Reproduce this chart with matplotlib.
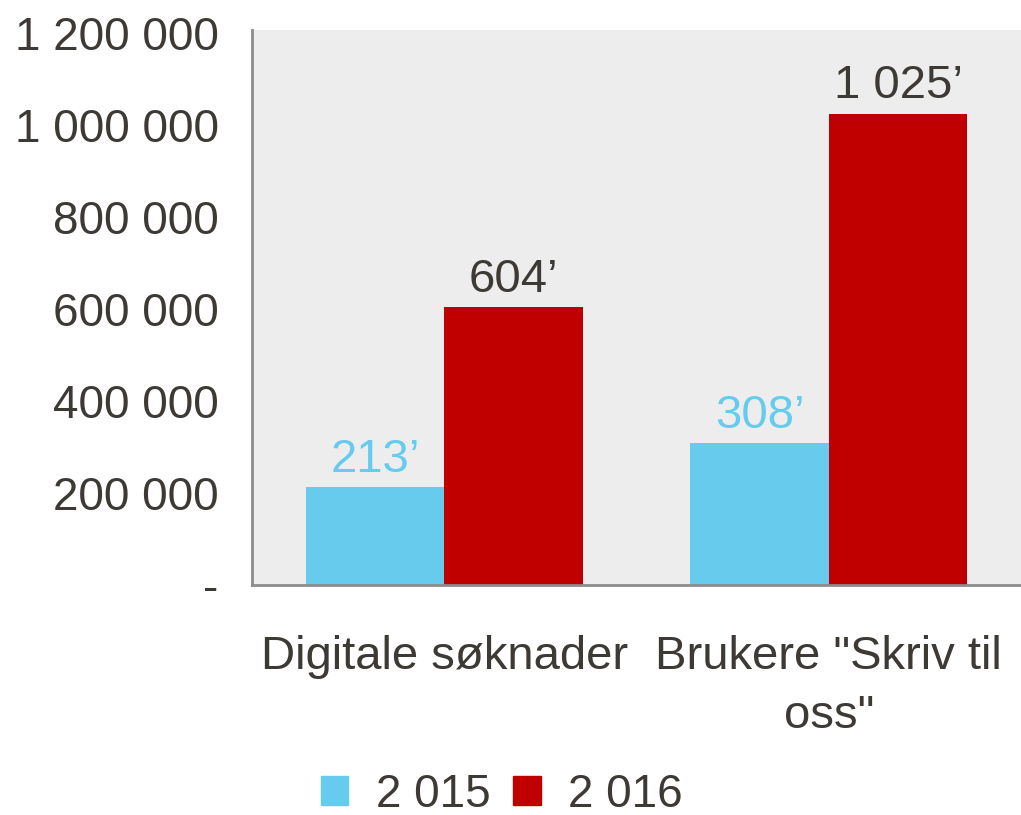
import matplotlib
matplotlib.use("Agg")
import matplotlib.pyplot as plt
from matplotlib.ticker import FixedLocator
from matplotlib.patches import Patch
import numpy as np

categories = ['Digitale søknader', 'Brukere "Skriv til\noss"']
series_names = ['2 015', '2 016']
values_2015 = [213000, 308000]
values_2016 = [604000, 1025000]
labels_2015 = ['213’', '308’']
labels_2016 = ['604’', '1 025’']
yticks = [0, 200000, 400000, 600000, 800000, 1000000, 1200000]
ytick_labels = ['-', '200 000', '400 000', '600 000', '800 000', '1 000 000', '1 200 000']

blue = '#66CBEC'
red = '#C00000'
dark = '#3D3935'
bg = '#EDEDED'

plt.rcParams['font.family'] = ['Liberation Sans', 'DejaVu Sans']

fig = plt.figure(figsize=(10.21, 8.15), dpi=100)
ax = fig.add_axes([252/1021, 1-585/815, (1021-252)/1021, (585-30)/815])
ax.set_facecolor(bg)

x = np.arange(len(categories))
w = 0.36
ax.bar(x - w/2, values_2015, w, color=blue, zorder=2)
ax.bar(x + w/2, values_2016, w, color=red, zorder=2)

for xi, v, lab in zip(x - w/2, values_2015, labels_2015):
    ax.annotate(lab, (xi, v), xytext=(0, 4), textcoords='offset points',
                ha='center', va='bottom', fontsize=34, color=blue)
for xi, v, lab in zip(x + w/2, values_2016, labels_2016):
    ax.annotate(lab, (xi, v), xytext=(0, 4), textcoords='offset points',
                ha='center', va='bottom', fontsize=34, color=dark)

ax.set_xlim(-0.5, 1.5)
ax.set_ylim(0, 1207000)
ax.yaxis.set_major_locator(FixedLocator(yticks))
ax.set_yticklabels(ytick_labels)
ax.set_xticks(x)
ax.set_xticklabels(categories, linespacing=1.45)
ax.tick_params(axis='y', length=0, pad=24, labelsize=33, labelcolor=dark)
ax.tick_params(axis='x', length=0, pad=36, labelsize=34, labelcolor=dark)
for lab in ax.get_xticklabels():
    lab.set_multialignment('center')

for s in ['top', 'right']:
    ax.spines[s].set_visible(False)
for s in ['left', 'bottom']:
    ax.spines[s].set_color('#8C8C8C')
    ax.spines[s].set_linewidth(2)

handles = [Patch(color=blue), Patch(color=red)]
fig.legend(handles, series_names, loc='center', bbox_to_anchor=(502/1021, 1-795/815),
           ncol=2, frameon=False, fontsize=33, labelcolor=dark,
           handlelength=0.6, handleheight=0.6, handletextpad=0.6, columnspacing=0.5)

fig.savefig('out.png', dpi=100, facecolor='white')
